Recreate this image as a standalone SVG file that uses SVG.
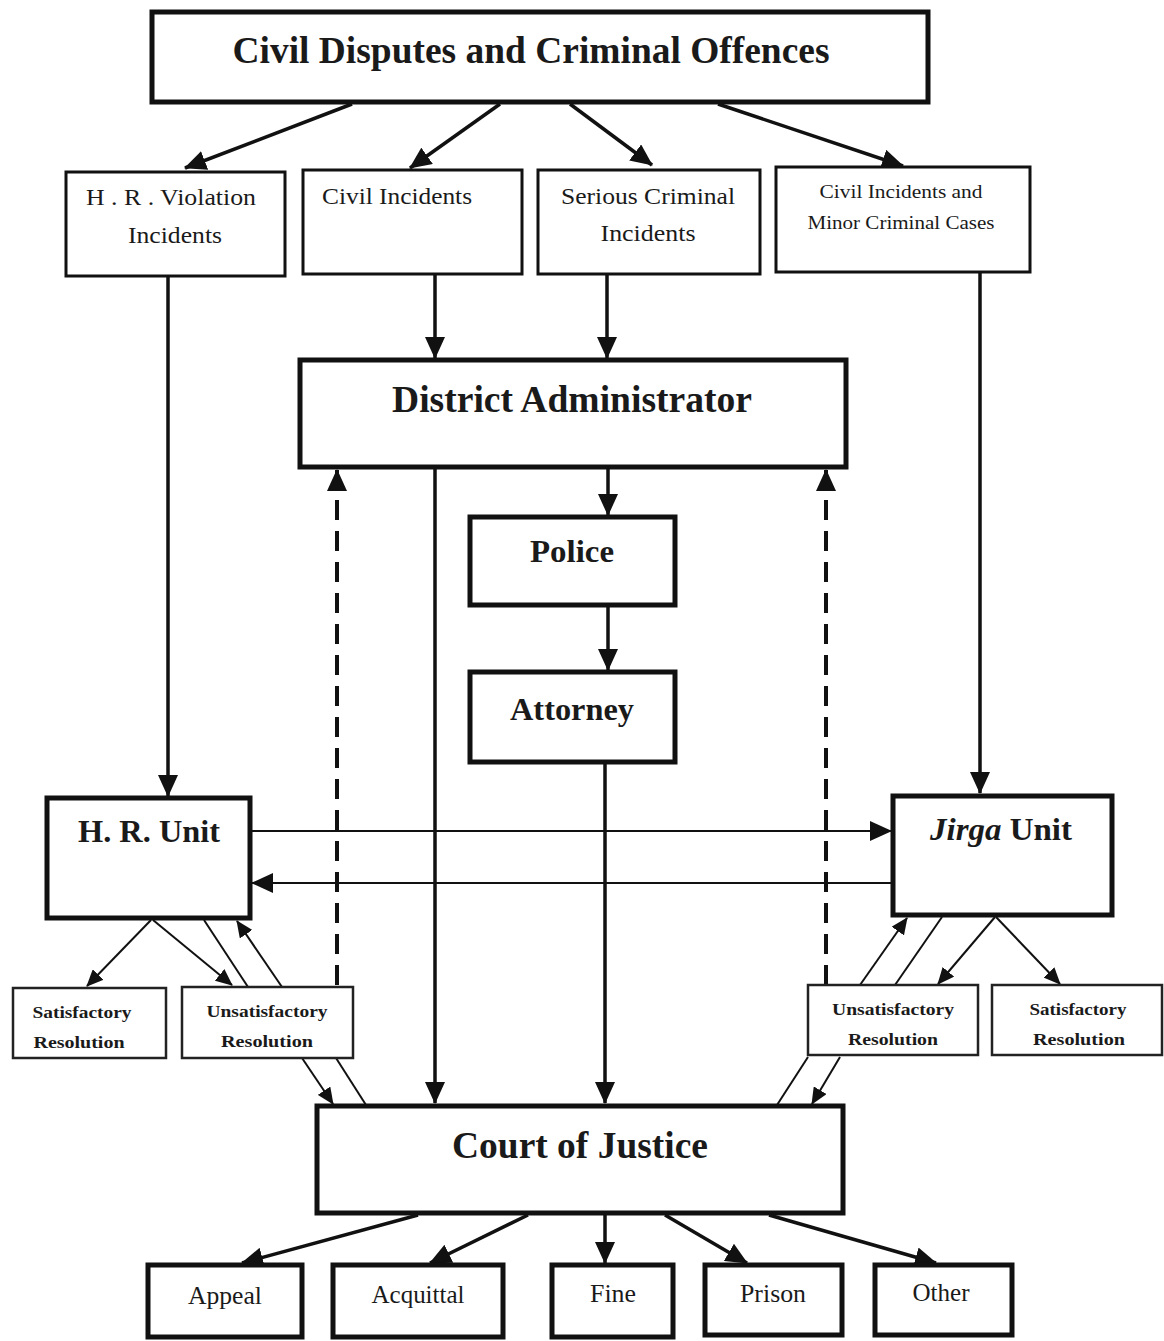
<svg xmlns="http://www.w3.org/2000/svg" width="1164" height="1341" viewBox="0 0 1164 1341">
<style>
.bx{fill:#fff;stroke:#111;stroke-width:5}
.bm{fill:#fff;stroke:#111;stroke-width:3}
.bs{fill:#fff;stroke:#222;stroke-width:2.5}
text{font-family:"Liberation Serif","Times New Roman",serif;fill:#1a1a1a;text-anchor:middle}
.t1{font-size:37px;font-weight:bold}
.t2{font-size:32px;font-weight:bold}
.t3{font-size:24px}
.t4{font-size:19px}
.t5{font-size:17px;font-weight:bold}
.t6{font-size:26px}
.c{stroke:#111;stroke-width:3.5;fill:none}
.ct{stroke:#111;stroke-width:2;fill:none}
.d{stroke:#111;stroke-width:4;fill:none;stroke-dasharray:20 11}
</style>
<defs>
<marker id="a" markerUnits="userSpaceOnUse" markerWidth="22" markerHeight="20" refX="21" refY="10" orient="auto" viewBox="0 0 22 20"><path d="M0,0 L22,10 L0,20 z" fill="#111"/></marker>
<marker id="as" markerUnits="userSpaceOnUse" markerWidth="17" markerHeight="15" refX="16" refY="7.5" orient="auto" viewBox="0 0 17 15"><path d="M0,0 L17,7.5 L0,15 z" fill="#111"/></marker>
</defs>
<g id="connectors">
<line class="c" x1="352" y1="104" x2="185" y2="168" marker-end="url(#a)"/>
<line class="c" x1="500" y1="104" x2="410" y2="168" marker-end="url(#a)"/>
<line class="c" x1="570" y1="104" x2="652" y2="165" marker-end="url(#a)"/>
<line class="c" x1="718" y1="104" x2="903" y2="166" marker-end="url(#a)"/>
<line class="c" x1="168" y1="277" x2="168" y2="796" marker-end="url(#a)"/>
<line class="c" x1="435" y1="275" x2="435" y2="358" marker-end="url(#a)"/>
<line class="c" x1="607" y1="275" x2="607" y2="358" marker-end="url(#a)"/>
<line class="c" x1="980" y1="273" x2="980" y2="793" marker-end="url(#a)"/>
<line class="c" x1="608" y1="468" x2="608" y2="515" marker-end="url(#a)"/>
<line class="c" x1="608" y1="606" x2="608" y2="670" marker-end="url(#a)"/>
<line class="c" x1="435" y1="468" x2="435" y2="1103" marker-end="url(#a)"/>
<line class="c" x1="605" y1="763" x2="605" y2="1103" marker-end="url(#a)"/>
<line class="d" x1="337" y1="985" x2="337" y2="470" marker-end="url(#a)"/>
<line class="d" x1="826" y1="985" x2="826" y2="470" marker-end="url(#a)"/>
<line class="ct" x1="251" y1="831" x2="891" y2="831" marker-end="url(#a)"/>
<line class="ct" x1="892" y1="883" x2="252" y2="883" marker-end="url(#a)"/>
<line class="ct" x1="151" y1="920" x2="87" y2="986" marker-end="url(#as)"/>
<line class="ct" x1="153" y1="920" x2="232" y2="985" marker-end="url(#as)"/>
<line class="ct" x1="204" y1="920" x2="248" y2="987"/>
<line class="ct" x1="282" y1="987" x2="237" y2="921" marker-end="url(#as)"/>
<line class="ct" x1="302" y1="1058" x2="333" y2="1104" marker-end="url(#as)"/>
<line class="ct" x1="336" y1="1058" x2="366" y2="1105"/>
<line class="ct" x1="995" y1="917" x2="938" y2="984" marker-end="url(#as)"/>
<line class="ct" x1="996" y1="917" x2="1060" y2="984" marker-end="url(#as)"/>
<line class="ct" x1="860" y1="985" x2="907" y2="918" marker-end="url(#as)"/>
<line class="ct" x1="895" y1="985" x2="942" y2="917"/>
<line class="ct" x1="808" y1="1057" x2="777" y2="1105"/>
<line class="ct" x1="840" y1="1057" x2="812" y2="1104" marker-end="url(#as)"/>
<line class="c" x1="418" y1="1215" x2="242" y2="1263" marker-end="url(#a)"/>
<line class="c" x1="528" y1="1215" x2="430" y2="1263" marker-end="url(#a)"/>
<line class="c" x1="605" y1="1215" x2="605" y2="1263" marker-end="url(#a)"/>
<line class="c" x1="665" y1="1215" x2="747" y2="1263" marker-end="url(#a)"/>
<line class="c" x1="769" y1="1215" x2="936" y2="1263" marker-end="url(#a)"/>
</g>
<g id="n-top"><rect class="bx" x="152" y="12" width="776" height="90"/><text class="t1" x="531" y="63" textLength="597" lengthAdjust="spacingAndGlyphs">Civil Disputes and Criminal Offences</text></g>
<g id="n-hrv"><rect class="bm" x="66" y="172" width="219" height="104"/><text class="t3" x="171" y="205" textLength="170" lengthAdjust="spacingAndGlyphs">H . R . Violation</text><text class="t3" x="175" y="243" textLength="94" lengthAdjust="spacingAndGlyphs">Incidents</text></g>
<g id="n-civil"><rect class="bm" x="303" y="170" width="219" height="104"/><text class="t3" x="397" y="204" textLength="150" lengthAdjust="spacingAndGlyphs">Civil Incidents</text></g>
<g id="n-serious"><rect class="bm" x="538" y="170" width="222" height="104"/><text class="t3" x="648" y="204" textLength="174" lengthAdjust="spacingAndGlyphs">Serious Criminal</text><text class="t3" x="648" y="241" textLength="95" lengthAdjust="spacingAndGlyphs">Incidents</text></g>
<g id="n-minor"><rect class="bm" x="776" y="167" width="254" height="105"/><text class="t4" x="901" y="198" textLength="163" lengthAdjust="spacingAndGlyphs">Civil Incidents and</text><text class="t4" x="901" y="229" textLength="187" lengthAdjust="spacingAndGlyphs">Minor Criminal Cases</text></g>
<g id="n-da"><rect class="bx" x="300" y="360" width="546" height="107"/><text class="t1" x="572" y="412" textLength="360" lengthAdjust="spacingAndGlyphs">District Administrator</text></g>
<g id="n-police"><rect class="bx" x="470" y="517" width="205" height="88"/><text class="t2" x="572" y="562" textLength="84" lengthAdjust="spacingAndGlyphs">Police</text></g>
<g id="n-attorney"><rect class="bx" x="470" y="672" width="205" height="90"/><text class="t2" x="572" y="720" textLength="124" lengthAdjust="spacingAndGlyphs">Attorney</text></g>
<g id="n-hru"><rect class="bx" x="47" y="798" width="203" height="120"/><text class="t2" x="149" y="842" textLength="142" lengthAdjust="spacingAndGlyphs">H. R. Unit</text></g>
<g id="n-jirga"><rect class="bx" x="893" y="796" width="219" height="119"/><text class="t2" x="1001" y="840" textLength="142" lengthAdjust="spacingAndGlyphs"><tspan font-style="italic">Jirga</tspan> Unit</text></g>
<g id="n-hr-sat"><rect class="bs" x="13" y="988" width="153" height="70"/><text class="t5" x="82" y="1018" textLength="99" lengthAdjust="spacingAndGlyphs">Satisfactory</text><text class="t5" x="79" y="1048" textLength="91" lengthAdjust="spacingAndGlyphs">Resolution</text></g>
<g id="n-hr-unsat"><rect class="bs" x="182" y="987" width="171" height="71"/><text class="t5" x="267" y="1017" textLength="121" lengthAdjust="spacingAndGlyphs">Unsatisfactory</text><text class="t5" x="267" y="1047" textLength="92" lengthAdjust="spacingAndGlyphs">Resolution</text></g>
<g id="n-j-unsat"><rect class="bs" x="808" y="985" width="170" height="70"/><text class="t5" x="893" y="1015" textLength="122" lengthAdjust="spacingAndGlyphs">Unsatisfactory</text><text class="t5" x="893" y="1045" textLength="90" lengthAdjust="spacingAndGlyphs">Resolution</text></g>
<g id="n-j-sat"><rect class="bs" x="992" y="985" width="170" height="70"/><text class="t5" x="1078" y="1015" textLength="97" lengthAdjust="spacingAndGlyphs">Satisfactory</text><text class="t5" x="1079" y="1045" textLength="92" lengthAdjust="spacingAndGlyphs">Resolution</text></g>
<g id="n-court"><rect class="bx" x="317" y="1106" width="526" height="107"/><text class="t1" x="580" y="1158" textLength="256" lengthAdjust="spacingAndGlyphs">Court of Justice</text></g>
<g id="n-appeal"><rect class="bx" x="148" y="1265" width="154" height="72"/><text class="t6" x="225" y="1304" textLength="74" lengthAdjust="spacingAndGlyphs">Appeal</text></g>
<g id="n-acquittal"><rect class="bx" x="333" y="1265" width="170" height="72"/><text class="t6" x="418" y="1303" textLength="93" lengthAdjust="spacingAndGlyphs">Acquittal</text></g>
<g id="n-fine"><rect class="bx" x="552" y="1265" width="121" height="72"/><text class="t6" x="613" y="1302" textLength="46" lengthAdjust="spacingAndGlyphs">Fine</text></g>
<g id="n-prison"><rect class="bx" x="705" y="1265" width="137" height="70"/><text class="t6" x="773" y="1302" textLength="66" lengthAdjust="spacingAndGlyphs">Prison</text></g>
<g id="n-other"><rect class="bx" x="875" y="1265" width="137" height="70"/><text class="t6" x="941" y="1301" textLength="57" lengthAdjust="spacingAndGlyphs">Other</text></g>
</svg>
